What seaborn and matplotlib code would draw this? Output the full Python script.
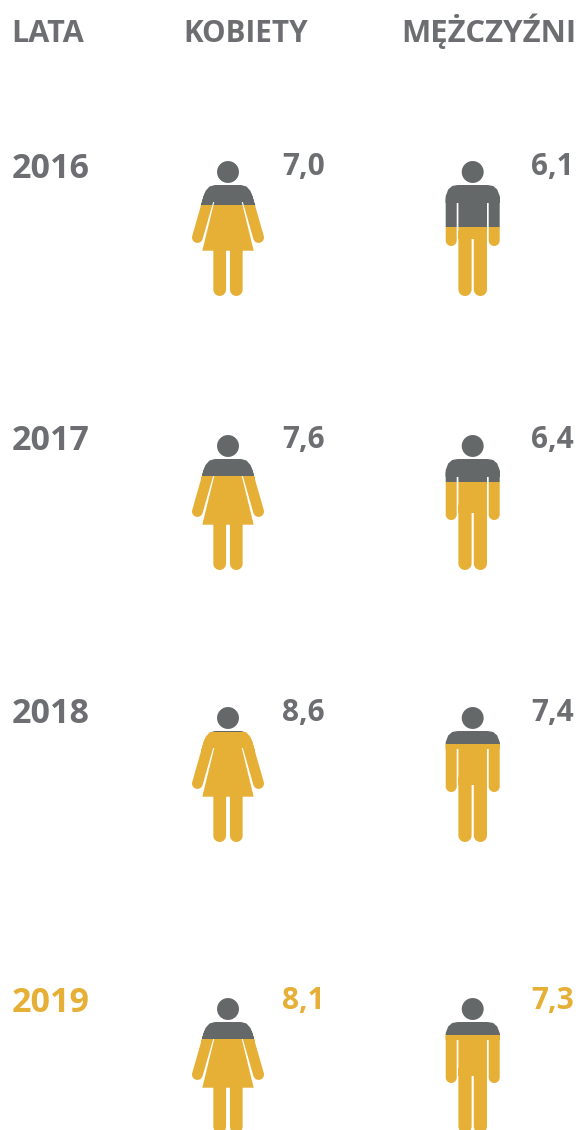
from matplotlib import pyplot as plt
from matplotlib.path import Path
from matplotlib.patches import PathPatch
import seaborn as sns
import numpy as np

# data
years = ['2016', '2017', '2018', '2019']
women_values = [7.0, 7.6, 8.6, 8.1]
men_values = [6.1, 6.4, 7.4, 7.3]
# filled share of each icon
women_fill = [0.674, 0.696, 0.813, 0.694]
men_fill = [0.509, 0.650, 0.724, 0.726]
headers = ['LATA', 'KOBIETY', 'MĘŻCZYŹNI']

GRAY = '#6d6e71'
ICON_GRAY = '#656868'
YELLOW = '#e6af35'
W, H = 579, 1130
ICON_W, ICON_H = 80, 135

icon_tops = [161, 435, 707, 998]
text_base = [178, 450, 723, 1012]
value_base = [175, 448, 721, 1009]
header_x = [11, 183, 401]
header_size = [22, 21.3, 22.4]

sns.set_theme(style='white')
plt.rcParams['font.family'] = ['Open Sans', 'DejaVu Sans']


def capsule(p1, p2, r):
    p1, p2 = np.array(p1, float), np.array(p2, float)
    a = np.arctan2(*(p2 - p1)[::-1])
    t1 = np.linspace(a + np.pi / 2, a + 3 * np.pi / 2, 16)
    t2 = np.linspace(a - np.pi / 2, a + np.pi / 2, 16)
    return np.vstack([p1 + r * np.c_[np.cos(t1), np.sin(t1)],
                      p2 + r * np.c_[np.cos(t2), np.sin(t2)]])


def to_path(parts):
    # px offsets from the icon centre/top -> axes data, all wound the same way
    paths = []
    for p in parts:
        p = np.asarray(p, float)
        xy = np.c_[p[:, 0] / ICON_W, 1 - p[:, 1] / ICON_H]
        x, y = xy[:, 0], xy[:, 1]
        if np.sum(x * np.roll(y, -1) - np.roll(x, -1) * y) < 0:
            xy = xy[::-1]
        paths.append(Path(np.vstack([xy, xy[:1]]), closed=True))
    return Path.make_compound_path(*paths)


head = capsule((0, 11), (0, 11), 11)

woman_shoulder = [(-13, 24), (-18.5, 25.5), (-22.5, 30), (-25, 37), (-26.7, 43), (-26, 44.5),
                  (-19, 41), (-13.5, 41), (13.5, 41), (19, 41), (26, 44.5), (26.7, 43),
                  (25, 37), (22.5, 30), (18.5, 25.5), (13, 24)]
woman_dress = [(-13.5, 40), (13.5, 40), (25.7, 89.7), (-25.7, 89.7)]
woman = to_path([head, woman_shoulder, woman_dress,
                 capsule((-19, 36), (-30.6, 76.5), 5.4), capsule((19, 36), (30.6, 76.5), 5.4),
                 capsule((-8.3, 85), (-8.3, 128.6), 6.35), capsule((8.3, 85), (8.3, 128.6), 6.35)])

man_shoulder = [(-15, 24), (-20.5, 25), (-24.5, 28.5), (-27, 35), (-27, 42),
                (27, 42), (27, 35), (24.5, 28.5), (20.5, 25), (15, 24)]
man_torso = [(-14.3, 41), (14.3, 41), (14.3, 78), (-14.3, 78)]
man = to_path([head, man_shoulder, man_torso,
               capsule((-21.5, 38), (-21.5, 79.5), 5.5), capsule((21.5, 38), (21.5, 79.5), 5.5),
               capsule((-7.7, 72), (-7.7, 128.4), 6.6), capsule((7.7, 72), (7.7, 128.4), 6.6)])

fig = plt.figure(figsize=(W / 100, H / 100), dpi=100)
bg = fig.add_axes([0, 0, 1, 1])
bg.set_xlim(0, W)
bg.set_ylim(H, 0)
bg.axis('off')


def draw_icon(cx, top, fill, shape):
    ax = fig.add_axes([(cx - ICON_W / 2) / W, 1 - (top + ICON_H) / H, ICON_W / W, ICON_H / H])
    sns.barplot(x=['v'], y=[fill], color=YELLOW, width=1, saturation=1, ax=ax)
    sns.barplot(x=['v'], y=[1 - fill], bottom=fill, color=ICON_GRAY, width=1, saturation=1, ax=ax)
    ax.set_xlim(-0.5, 0.5)
    ax.set_ylim(0, 1)
    ax.axis('off')
    clip = PathPatch(shape, transform=ax.transData, facecolor='none', edgecolor='none')
    ax.add_patch(clip)
    for bar in ax.patches:
        if bar is not clip:
            bar.set_edgecolor('none')
            bar.set_clip_path(clip)


for x, label, size in zip(header_x, headers, header_size):
    bg.text(x, 42, label, fontsize=size, fontweight='bold', color=GRAY, va='baseline')

for i, year in enumerate(years):
    col = YELLOW if year == '2019' else GRAY
    bg.text(12, text_base[i], year, fontsize=24.5, fontweight='bold', color=col, va='baseline')
    bg.text(282, value_base[i], f'{women_values[i]:.1f}'.replace('.', ','), fontsize=21.5,
            fontweight='bold', color=col, va='baseline')
    bg.text(531, value_base[i], f'{men_values[i]:.1f}'.replace('.', ','), fontsize=21.5,
            fontweight='bold', color=col, va='baseline')
    draw_icon(228, icon_tops[i], women_fill[i], woman)
    draw_icon(472.7, icon_tops[i], men_fill[i], man)

fig.savefig('out.png', dpi=100)
